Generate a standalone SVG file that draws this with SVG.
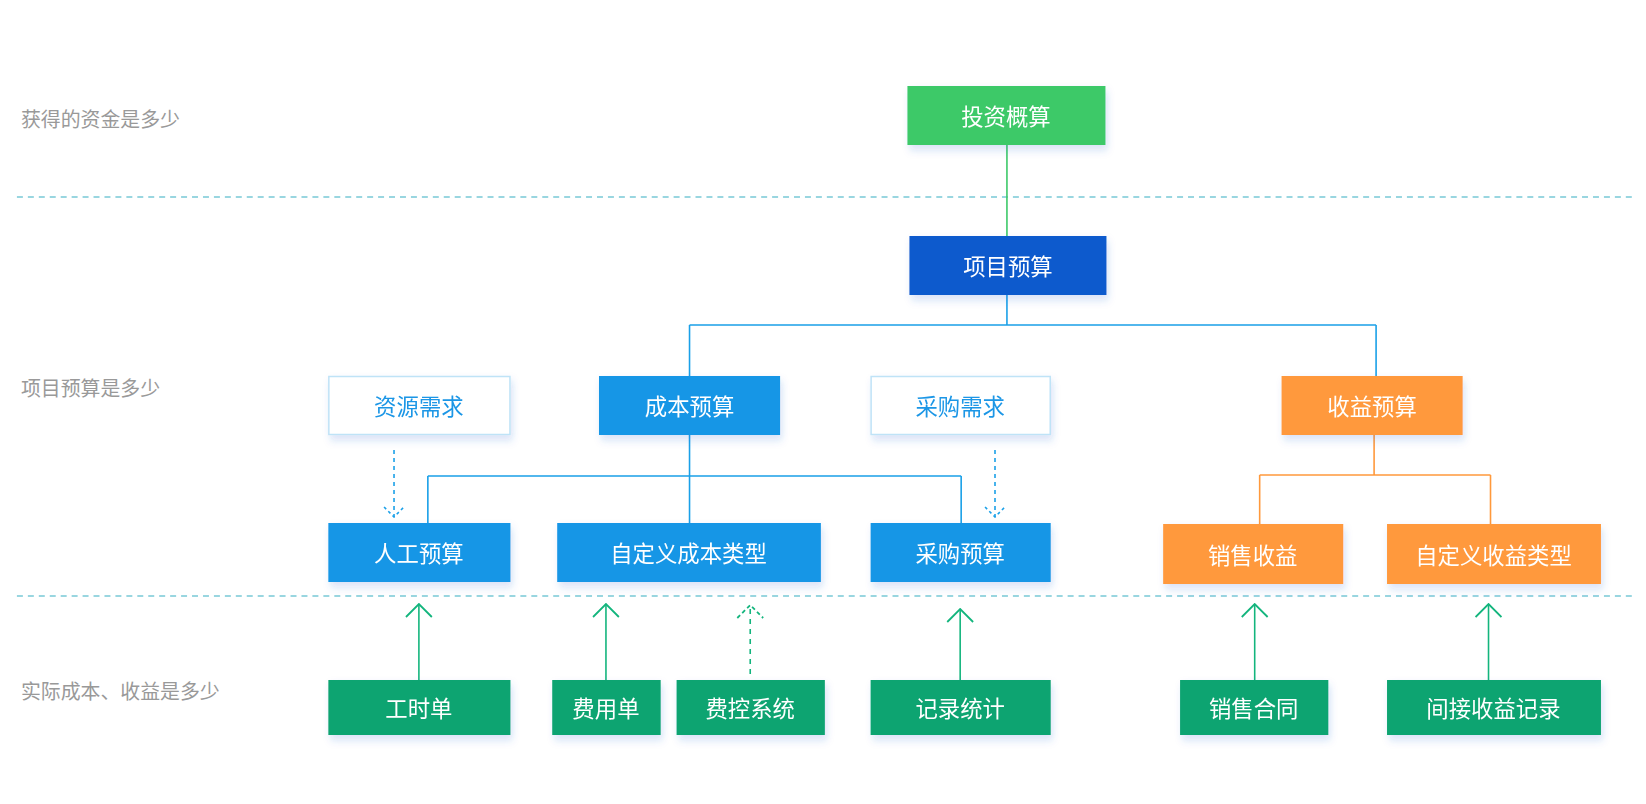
<svg xmlns="http://www.w3.org/2000/svg" width="1646" height="804" viewBox="0 0 1646 804">
<defs>
<filter id="sh" x="-20%" y="-20%" width="140%" height="160%"><feDropShadow dx="2" dy="5" stdDeviation="4" flood-color="#3060d0" flood-opacity="0.18"/></filter>
<marker id="ag" viewBox="0 0 28 20" refX="14" refY="1" markerWidth="28" markerHeight="20" markerUnits="userSpaceOnUse" orient="0"><path d="M1,14 L14,1 L27,14" fill="none" stroke="#13b57d" stroke-width="1.8"/></marker>
<marker id="agd" viewBox="0 0 28 20" refX="14" refY="1" markerWidth="28" markerHeight="20" markerUnits="userSpaceOnUse" orient="0"><path d="M1,14 L14,1 L27,14" fill="none" stroke="#13b57d" stroke-width="1.8" stroke-dasharray="4,3"/></marker>
<marker id="ab" viewBox="0 0 24 20" refX="12" refY="19" markerWidth="24" markerHeight="20" markerUnits="userSpaceOnUse" orient="0"><path d="M2,9 L12,19 L22,9" fill="none" stroke="#1aa0e8" stroke-width="1.6" stroke-dasharray="3,3"/></marker>
</defs>
<style>
text{font-family:"Noto Sans CJK SC","Noto Sans",sans-serif}
.t{fill:#fff;font-size:22.5px;text-anchor:middle;dominant-baseline:central}
.tb{fill:#1a96e6;font-size:22.5px;text-anchor:middle;dominant-baseline:central}
.lab{fill:#999;font-size:20px;dominant-baseline:central}
.sep{stroke:#99d6e0;stroke-width:2;stroke-dasharray:6,5}
.cb{stroke:#1aa0e8;stroke-width:1.6;fill:none}
.co{stroke:#ff993c;stroke-width:1.6;fill:none}
.cg{stroke:#3cc968;stroke-width:1.6;fill:none}
.ug{stroke:#13b57d;stroke-width:1.6;fill:none}
</style>
<g transform="matrix(0.995 0 0 1 0 0)">
<text class="lab" x="21" y="118">获得的资金是多少</text>
<text class="lab" x="21" y="387">项目预算是多少</text>
<text class="lab" x="21" y="690">实际成本、收益是多少</text>
<line class="sep" x1="17" y1="197" x2="1640" y2="197"/>
<line class="sep" x1="17" y1="596" x2="1640" y2="596"/>
<g id="connectors">
<path class="cg" d="M1012,145 V236"/>
<path class="cb" d="M1012,295 V325 M693,325 H1383 M693,325 V376 M1383,325 V376"/>
<path class="cb" d="M693,435 V523 M430,476 H966 M430,476 V523 M966,476 V523"/>
<path class="co" d="M1381,435 V475 M1266,475 H1498 M1266,475 V524 M1498,475 V524"/>
<path class="cb" d="M396,450 V517" stroke-dasharray="4,4" marker-end="url(#ab)"/>
<path class="cb" d="M1000,450 V517" stroke-dasharray="4,4" marker-end="url(#ab)"/>
<path class="ug" d="M421,680 V604" marker-end="url(#ag)"/>
<path class="ug" d="M609,680 V604" marker-end="url(#ag)"/>
<path class="ug" d="M754,674 V605" stroke-dasharray="5,5" marker-end="url(#agd)"/>
<path class="ug" d="M965,680 V609" marker-end="url(#ag)"/>
<path class="ug" d="M1261,680 V604" marker-end="url(#ag)"/>
<path class="ug" d="M1496,680 V604" marker-end="url(#ag)"/>
</g>
<g id="n1" filter="url(#sh)"><rect x="912" y="86" width="199" height="59" fill="#3cc968"/><text class="t" x="1011" y="115">投资概算</text></g>
<g id="n2" filter="url(#sh)"><rect x="914" y="236" width="198" height="59" fill="#0e5acd"/><text class="t" x="1013" y="265">项目预算</text></g>
<g id="n3" filter="url(#sh)"><rect x="330.5" y="376.5" width="182" height="58" fill="#fff" stroke="#bfe3f7" stroke-width="1.5"/><text class="tb" x="421" y="405">资源需求</text></g>
<g id="n4" filter="url(#sh)"><rect x="602" y="376" width="182" height="59" fill="#1896e6"/><text class="t" x="693" y="405">成本预算</text></g>
<g id="n5" filter="url(#sh)"><rect x="875.5" y="376.5" width="180" height="58" fill="#fff" stroke="#bfe3f7" stroke-width="1.5"/><text class="tb" x="965" y="405">采购需求</text></g>
<g id="n6" filter="url(#sh)"><rect x="1288" y="376" width="182" height="59" fill="#ff993c"/><text class="t" x="1379" y="405">收益预算</text></g>
<g id="n7" filter="url(#sh)"><rect x="330" y="523" width="183" height="59" fill="#1896e6"/><text class="t" x="421" y="552">人工预算</text></g>
<g id="n8" filter="url(#sh)"><rect x="560" y="523" width="265" height="59" fill="#1896e6"/><text class="t" x="692" y="552">自定义成本类型</text></g>
<g id="n9" filter="url(#sh)"><rect x="875" y="523" width="181" height="59" fill="#1896e6"/><text class="t" x="965" y="552">采购预算</text></g>
<g id="n10" filter="url(#sh)"><rect x="1169" y="524" width="181" height="60" fill="#ff993c"/><text class="t" x="1259" y="554">销售收益</text></g>
<g id="n11" filter="url(#sh)"><rect x="1394" y="524" width="215" height="60" fill="#ff993c"/><text class="t" x="1501" y="554">自定义收益类型</text></g>
<g id="n12" filter="url(#sh)"><rect x="330" y="680" width="183" height="55" fill="#0da471"/><text class="t" x="421" y="707">工时单</text></g>
<g id="n13" filter="url(#sh)"><rect x="555" y="680" width="109" height="55" fill="#0da471"/><text class="t" x="609" y="707">费用单</text></g>
<g id="n14" filter="url(#sh)"><rect x="680" y="680" width="149" height="55" fill="#0da471"/><text class="t" x="754" y="707">费控系统</text></g>
<g id="n15" filter="url(#sh)"><rect x="875" y="680" width="181" height="55" fill="#0da471"/><text class="t" x="965" y="707">记录统计</text></g>
<g id="n16" filter="url(#sh)"><rect x="1186" y="680" width="149" height="55" fill="#0da471"/><text class="t" x="1260" y="707">销售合同</text></g>
<g id="n17" filter="url(#sh)"><rect x="1394" y="680" width="215" height="55" fill="#0da471"/><text class="t" x="1501" y="707">间接收益记录</text></g>
</g>
</svg>
